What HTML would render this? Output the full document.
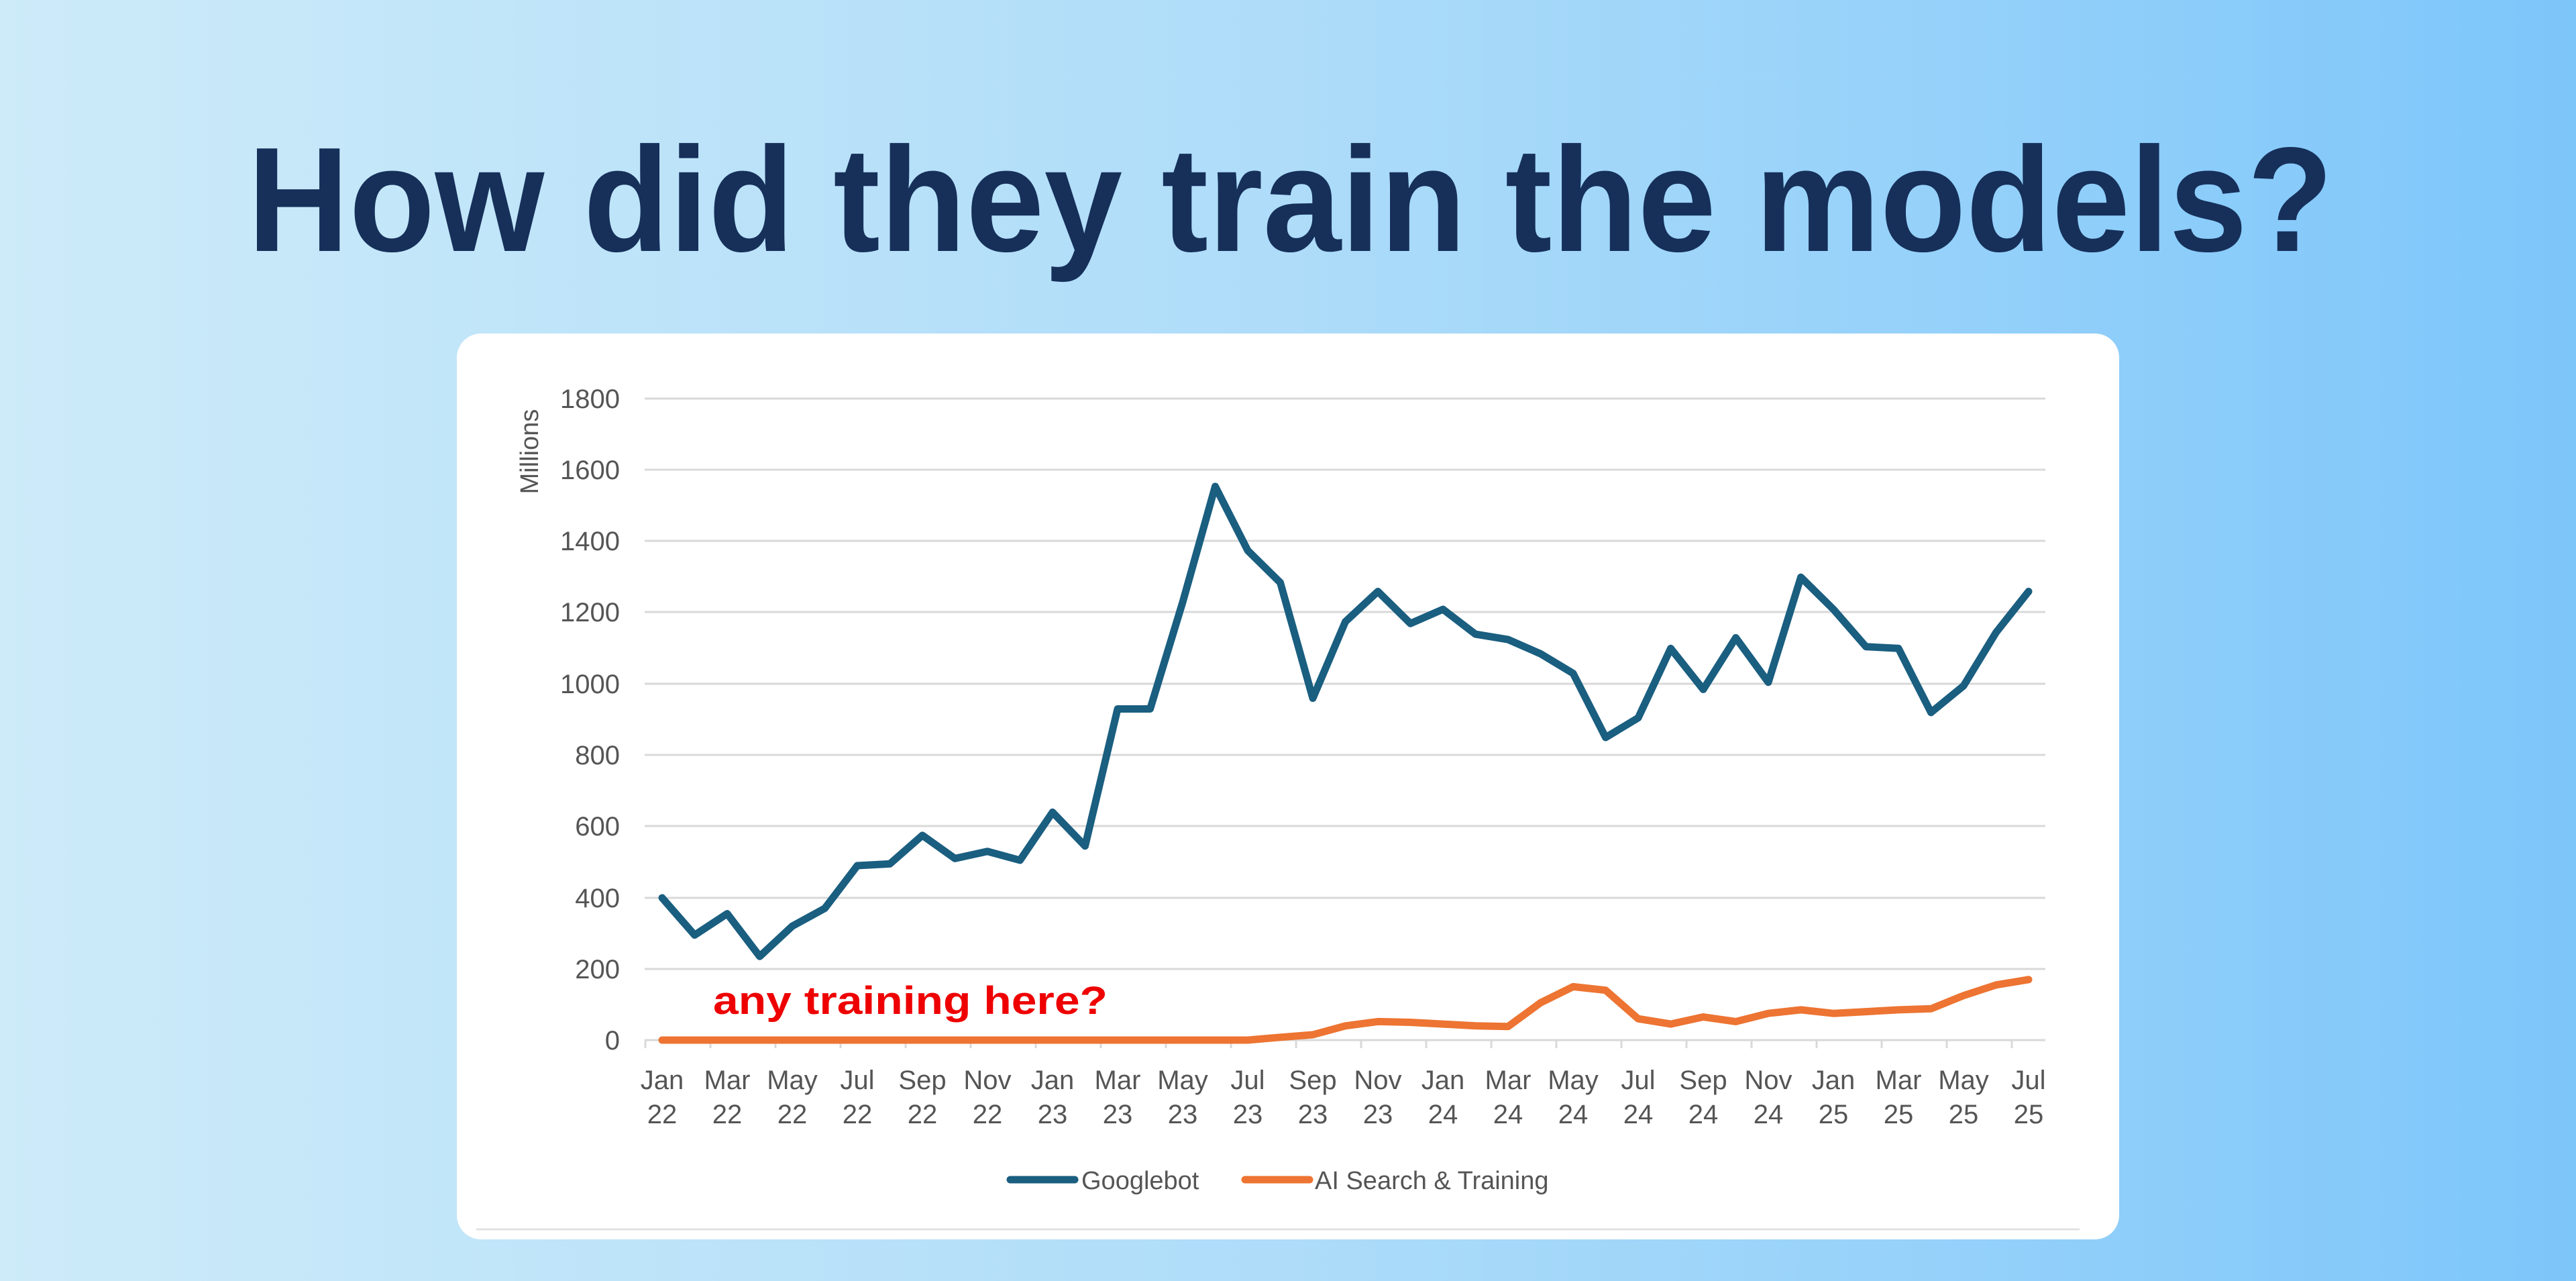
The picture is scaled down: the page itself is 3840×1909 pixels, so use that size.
<!DOCTYPE html>
<html><head><meta charset="utf-8"><style>
html,body{margin:0;padding:0;}
body{width:3840px;height:1909px;overflow:hidden;background:linear-gradient(90deg,#cdebf9 0%,#aedcf9 50%,#7dc6fa 100%);}
svg{display:block;}
</style></head><body>
<svg width="3840" height="1909" viewBox="0 0 3840 1909" xmlns="http://www.w3.org/2000/svg" font-family="'Liberation Sans', sans-serif">
<text x="369" y="374" font-size="222" font-weight="bold" fill="#16305a" textLength="3109" lengthAdjust="spacingAndGlyphs">How did they train the models?</text>
<rect x="681" y="497" width="2478" height="1350" rx="36" fill="#fff"/>
<line x1="710" y1="1832" x2="3100" y2="1832" stroke="#e2e2e2" stroke-width="3"/>
<g stroke="#d9d9d9" stroke-width="3">
<line x1="961" y1="594" x2="3049" y2="594"/>
<line x1="961" y1="700" x2="3049" y2="700"/>
<line x1="961" y1="806" x2="3049" y2="806"/>
<line x1="961" y1="912" x2="3049" y2="912"/>
<line x1="961" y1="1019" x2="3049" y2="1019"/>
<line x1="961" y1="1125" x2="3049" y2="1125"/>
<line x1="961" y1="1231" x2="3049" y2="1231"/>
<line x1="961" y1="1338" x2="3049" y2="1338"/>
<line x1="961" y1="1444" x2="3049" y2="1444"/>
<line x1="961" y1="1550" x2="3049" y2="1550"/>
</g>
<g stroke="#d9d9d9" stroke-width="3">
<line x1="962" y1="1550" x2="962" y2="1562"/><line x1="1059" y1="1550" x2="1059" y2="1562"/><line x1="1156" y1="1550" x2="1156" y2="1562"/><line x1="1253" y1="1550" x2="1253" y2="1562"/><line x1="1350" y1="1550" x2="1350" y2="1562"/><line x1="1447" y1="1550" x2="1447" y2="1562"/><line x1="1544" y1="1550" x2="1544" y2="1562"/><line x1="1641" y1="1550" x2="1641" y2="1562"/><line x1="1738" y1="1550" x2="1738" y2="1562"/><line x1="1835" y1="1550" x2="1835" y2="1562"/><line x1="1932" y1="1550" x2="1932" y2="1562"/><line x1="2029" y1="1550" x2="2029" y2="1562"/><line x1="2126" y1="1550" x2="2126" y2="1562"/><line x1="2223" y1="1550" x2="2223" y2="1562"/><line x1="2320" y1="1550" x2="2320" y2="1562"/><line x1="2417" y1="1550" x2="2417" y2="1562"/><line x1="2514" y1="1550" x2="2514" y2="1562"/><line x1="2611" y1="1550" x2="2611" y2="1562"/><line x1="2708" y1="1550" x2="2708" y2="1562"/><line x1="2805" y1="1550" x2="2805" y2="1562"/><line x1="2902" y1="1550" x2="2902" y2="1562"/><line x1="2999" y1="1550" x2="2999" y2="1562"/>
</g>
<g font-size="40" fill="#555" text-anchor="end">
<text x="924" y="608">1800</text><text x="924" y="714">1600</text><text x="924" y="820">1400</text><text x="924" y="926">1200</text><text x="924" y="1033">1000</text><text x="924" y="1139">800</text><text x="924" y="1245">600</text><text x="924" y="1352">400</text><text x="924" y="1458">200</text><text x="924" y="1564">0</text>
</g>
<text transform="translate(802,673) rotate(-90)" font-size="38" fill="#555" text-anchor="middle">Millions</text>
<g font-size="40" fill="#555" text-anchor="middle">
<text x="987" y="1623">Jan</text><text x="987" y="1674">22</text>
<text x="1084" y="1623">Mar</text><text x="1084" y="1674">22</text>
<text x="1181" y="1623">May</text><text x="1181" y="1674">22</text>
<text x="1278" y="1623">Jul</text><text x="1278" y="1674">22</text>
<text x="1375" y="1623">Sep</text><text x="1375" y="1674">22</text>
<text x="1472" y="1623">Nov</text><text x="1472" y="1674">22</text>
<text x="1569" y="1623">Jan</text><text x="1569" y="1674">23</text>
<text x="1666" y="1623">Mar</text><text x="1666" y="1674">23</text>
<text x="1763" y="1623">May</text><text x="1763" y="1674">23</text>
<text x="1860" y="1623">Jul</text><text x="1860" y="1674">23</text>
<text x="1957" y="1623">Sep</text><text x="1957" y="1674">23</text>
<text x="2054" y="1623">Nov</text><text x="2054" y="1674">23</text>
<text x="2151" y="1623">Jan</text><text x="2151" y="1674">24</text>
<text x="2248" y="1623">Mar</text><text x="2248" y="1674">24</text>
<text x="2345" y="1623">May</text><text x="2345" y="1674">24</text>
<text x="2442" y="1623">Jul</text><text x="2442" y="1674">24</text>
<text x="2539" y="1623">Sep</text><text x="2539" y="1674">24</text>
<text x="2636" y="1623">Nov</text><text x="2636" y="1674">24</text>
<text x="2733" y="1623">Jan</text><text x="2733" y="1674">25</text>
<text x="2830" y="1623">Mar</text><text x="2830" y="1674">25</text>
<text x="2927" y="1623">May</text><text x="2927" y="1674">25</text>
<text x="3024" y="1623">Jul</text><text x="3024" y="1674">25</text>
</g>
<polyline fill="none" stroke="#ed7432" stroke-width="11" stroke-linejoin="round" stroke-linecap="round" points="987,1550 1860,1550 1908.5,1545.8 1957,1542 2005.5,1528.8 2054,1522.4 2102.5,1523.5 2151,1526.1 2199.5,1528.8 2248,1529.8 2296.5,1494.3 2345,1470.4 2393.5,1475.7 2442,1518.2 2490.5,1526.1 2539,1515.5 2587.5,1522.4 2636,1510.2 2684.5,1504.9 2733,1510.2 2781.5,1507.6 2830,1504.9 2878.5,1503.3 2927,1483.7 2975.5,1467.8 3024,1459.8"/>
<polyline fill="none" stroke="#1a5e80" stroke-width="11" stroke-linejoin="round" stroke-linecap="round" points="987,1338 1035.5,1393.5 1084,1361.6 1132.5,1425.3 1181,1380.2 1229.5,1353.7 1278,1290 1326.5,1287.4 1375,1244.9 1423.5,1279.4 1472,1268.8 1520.5,1282 1569,1210.4 1617.5,1260.8 1666,1056.5 1714.5,1056.5 1763,897.4 1811.5,724.9 1860,820.4 1908.5,868.2 1957,1040.6 2005.5,926.5 2054,881.4 2102.5,929.2 2151,908 2199.5,945.1 2248,953.1 2296.5,974.3 2345,1003.5 2393.5,1099 2442,1069.8 2490.5,966.3 2539,1027.4 2587.5,950.4 2636,1016.8 2684.5,860.2 2733,908 2781.5,963.7 2830,966.3 2878.5,1061.8 2927,1022.1 2975.5,942.5 3024,881.4"/>
<text x="1063" y="1511" font-size="58" font-weight="bold" fill="#ee0000" textLength="588" lengthAdjust="spacingAndGlyphs">any training here?</text>
<line x1="1506" y1="1758" x2="1602" y2="1758" stroke="#1a5e80" stroke-width="11" stroke-linecap="round"/>
<text x="1612" y="1772" font-size="38" fill="#555">Googlebot</text>
<line x1="1856" y1="1758" x2="1952" y2="1758" stroke="#ed7432" stroke-width="11" stroke-linecap="round"/>
<text x="1960" y="1772" font-size="38" fill="#555">AI Search &amp; Training</text>
</svg>
</body></html>
